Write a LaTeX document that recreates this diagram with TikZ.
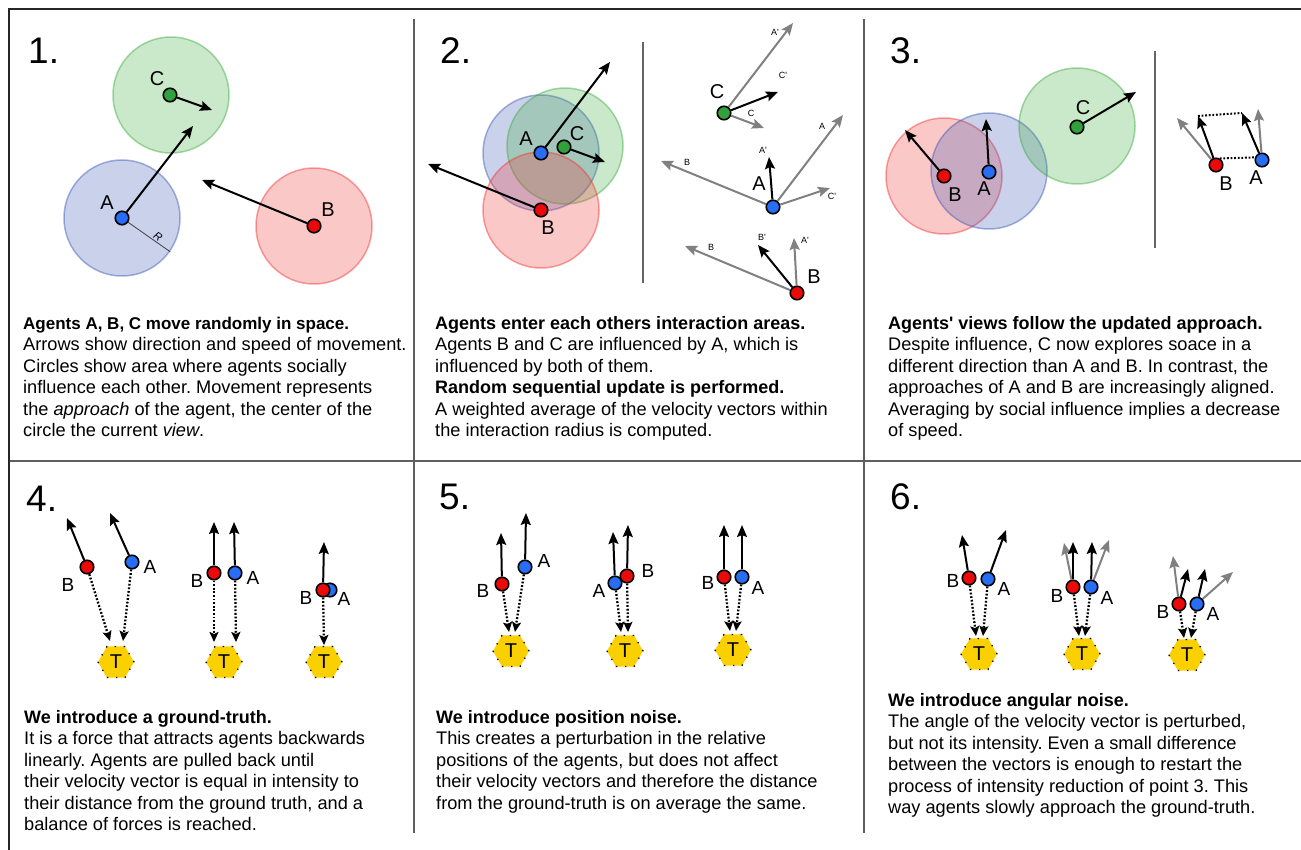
\documentclass[tikz,border=0pt]{standalone}
\usepackage{fontspec}
\setmainfont{Liberation Sans}
\usetikzlibrary{arrows.meta,shapes.geometric}
\frenchspacing

\definecolor{cblue}{RGB}{58,86,180}
\definecolor{cgreen}{RGB}{60,170,60}
\definecolor{cred}{RGB}{240,50,50}
\definecolor{dblue}{RGB}{40,110,245}
\definecolor{dred}{RGB}{235,10,10}
\definecolor{dgreen}{RGB}{50,160,60}
\definecolor{vgray}{RGB}{128,128,128}
\definecolor{tgold}{RGB}{250,208,0}
\definecolor{divider}{RGB}{95,95,95}

\newcommand\bodyfont{\fontsize{18.2}{21.5}\selectfont}
\newcommand\headfont{\fontsize{18}{21.5}\selectfont\bfseries}
\newcommand\firststrut{\rule{0pt}{15pt}}
\newcommand\pr{\textquotesingle}

\begin{document}
\begin{tikzpicture}[x=1pt,y=-1pt,
  zone/.style={circle, minimum size=116pt, inner sep=0pt, line width=1.5pt,
    fill opacity=0.27, draw opacity=0.45},
  bluezone/.style={zone, fill=cblue, draw=cblue},
  greenzone/.style={zone, fill=cgreen, draw=cgreen},
  redzone/.style={zone, fill=cred, draw=cred},
  agent/.style={circle, draw=black, line width=1.6pt, minimum size=13.5pt, inner sep=0pt},
  agentA/.style={agent, fill=dblue},
  agentB/.style={agent, fill=dred},
  agentC/.style={agent, fill=dgreen},
  vec/.style={line width=2pt, -{Stealth[length=12pt,width=10pt,inset=2pt]}},
  gvec/.style={vec, draw=vgray, color=vgray},
  pull/.style={line width=2.3pt, dash pattern=on 1.8pt off 1.8pt,
    -{Stealth[length=10pt,width=9pt,inset=2pt]}},
  pdot/.style={line width=2pt, dash pattern=on 1.8pt off 1.8pt},
  tgt/.style={regular polygon, regular polygon sides=6, fill=tgold, minimum size=36pt,
    inner sep=0pt, draw=black, line width=1.3pt, dash pattern=on 1.3pt off 7.7pt,
    font=\fontsize{20}{20}\selectfont},
  lbl/.style={inner sep=0pt, font=\fontsize{20}{20}\selectfont},
  slbl/.style={inner sep=0pt, font=\fontsize{19}{19}\selectfont},
  tiny/.style={inner sep=0pt, font=\fontsize{9}{9}\selectfont},
  num/.style={anchor=base west, inner sep=0pt, font=\fontsize{37}{37}\selectfont},
  para/.style={anchor=north west, inner sep=0pt, align=left, font=\bodyfont},
  frame/.style={line width=2.5pt, draw=black!85},
  sep/.style={line width=1.6pt, draw=divider},
  thinsep/.style={line width=1.8pt, draw=black!60}
]
\useasboundingbox (0,0) rectangle (1301,850);

% ---------- frame and dividers ----------
\draw[frame] (9,850) -- (9,9) -- (1301,9);
\draw[sep] (10,461) -- (1301,461);
\draw[sep] (414,19) -- (414,833);
\draw[sep] (864,19) -- (864,833);
\draw[thinsep] (643,42) -- (643,283);
\draw[thinsep] (1155,51) -- (1155,248);

% ---------- panel numbers ----------
\node[num] (n1) at (28,64) {1.};
\node[num] (n2) at (440,64) {2.};
\node[num] (n3) at (890,64) {3.};
\node[num] (n4) at (26,511) {4.};
\node[num] (n5) at (439,509) {5.};
\node[num] (n6) at (890,509) {6.};

% ---------- panel 1: random movement ----------
\node[bluezone]  (za1) at (122,218) {};
\node[greenzone] (zc1) at (171,95) {};
\node[redzone]   (zb1) at (314,226) {};
\node[agentA] (a1) at (122,218) {};
\node[agentC] (c1) at (170,95) {};
\node[agentB] (b1) at (314,226) {};
\draw[line width=0.8pt, draw=black!75] (a1) -- (za1.-35);
\node[inner sep=0pt, font=\fontsize{11}{11}\selectfont\itshape, rotate=-35] (r1) at (158,237) {R};
\coordinate (a1v) at (193,126);
\coordinate (c1v) at (212,110);
\coordinate (b1v) at (202,180);
\draw[vec] (a1) -- (a1v);
\draw[vec] (c1) -- (c1v);
\draw[vec] (b1) -- (b1v);
\node[lbl] (la1) at (107,203) {A};
\node[lbl] (lc1) at (157,79) {C};
\node[lbl] (lb1) at (328,210) {B};

% ---------- panel 2: overlapping areas ----------
\node[bluezone]  (za2) at (541,153) {};
\node[greenzone] (zc2) at (565,146) {};
\node[redzone]   (zb2) at (541,210) {};
\coordinate (a2v) at (610,62);
\coordinate (c2v) at (605,162);
\coordinate (b2v) at (428,164);
\node[agentA] (a2) at (541,153) {};
\node[agentC] (c2) at (564,147) {};
\node[agentB] (b2) at (541,210) {};
\draw[vec] (a2) -- (a2v);
\draw[vec] (c2) -- (c2v);
\draw[vec] (b2) -- (b2v);
\node[lbl] (la2) at (526,139) {A};
\node[lbl] (lc2) at (577,134) {C};
\node[lbl] (lb2) at (548,228) {B};

% panel 2: vector averaging for each agent
\node[agentC] (cc) at (724,113) {};
\coordinate (ccA) at (793,23);
\coordinate (ccC) at (764,128);
\coordinate (ccN) at (778,92);
\draw[gvec] (cc) -- (ccA);
\draw[gvec] (cc) -- (ccC);
\draw[vec] (cc) -- (ccN);
\node[lbl] (lcc) at (717,92) {C};
\node[tiny] (tccA) at (775,32) {A\pr};
\node[tiny] (tccN) at (783,75) {C\pr};
\node[tiny] (tccC) at (751,113) {C};

\node[agentA] (aa) at (773,207) {};
\coordinate (aaB) at (661,161);
\coordinate (aaA) at (843,115);
\coordinate (aaC) at (830,188);
\coordinate (aaN) at (769,157);
\draw[gvec] (aa) -- (aaB);
\draw[gvec] (aa) -- (aaA);
\draw[gvec] (aa) -- (aaC);
\draw[vec] (aa) -- (aaN);
\node[lbl] (laa) at (759,184) {A};
\node[tiny] (taaN) at (763,150) {A\pr};
\node[tiny] (taaA) at (822,126) {A};
\node[tiny] (taaB) at (687,162) {B};
\node[tiny] (taaC) at (832,196) {C\pr};

\node[agentB] (bb) at (797,293) {};
\coordinate (bbB) at (685,246);
\coordinate (bbA) at (794,238);
\coordinate (bbN) at (758,245);
\draw[gvec] (bb) -- (bbB);
\draw[gvec] (bb) -- (bbA);
\draw[vec] (bb) -- (bbN);
\node[lbl] (lbb) at (814,277) {B};
\node[tiny] (tbbB) at (711,247) {B};
\node[tiny] (tbbN) at (762,237) {B\pr};
\node[tiny] (tbbA) at (805,240) {A\pr};

% ---------- panel 3: views follow approach ----------
\node[redzone]   (zb3) at (944,176) {};
\node[bluezone]  (za3) at (989,171) {};
\node[greenzone] (zc3) at (1077,126) {};
\coordinate (b3v) at (905,130);
\coordinate (a3v) at (986,119);
\coordinate (c3v) at (1136,92);
\node[agentB] (b3) at (944,176) {};
\node[agentA] (a3) at (989,172) {};
\node[agentC] (c3) at (1077,127) {};
\draw[vec] (b3) -- (b3v);
\draw[vec] (a3) -- (a3v);
\draw[vec] (c3) -- (c3v);
\node[lbl] (lb3) at (955,195) {B};
\node[lbl] (la3) at (984,189) {A};
\node[lbl] (lc3) at (1083,108) {C};

% panel 3: shrinking of aligned vectors
\node[agentB] (bs) at (1216,165) {};
\node[agentA] (as) at (1262,160) {};
\coordinate (bsG) at (1177,118);
\coordinate (asG) at (1258,109);
\coordinate (bsN) at (1198,116);
\coordinate (asN) at (1242,113);
\draw[gvec] (bs) -- (bsG);
\draw[gvec] (as) -- (asG);
\draw[vec] (bs) -- (bsN);
\draw[vec] (as) -- (asN);
\draw[pdot] (bsN) -- (asN);
\draw[pdot] (bs.60) -- (as.160);
\node[lbl] (lbs) at (1226,184) {B};
\node[lbl] (las) at (1256,178) {A};

% ---------- panel 4: ground truth ----------
\node[tgt] (t41) at (116,662) {T};
\node[tgt] (t42) at (224,662) {T};
\node[tgt] (t43) at (324,662) {T};

\node[agentB] (b41) at (87,567) {};
\node[agentA] (a41) at (132,562) {};
\coordinate (b41v) at (67,518);
\coordinate (a41v) at (110,513);
\coordinate (b41p) at (110,641);
\coordinate (a41p) at (123,641);
\draw[vec] (b41) -- (b41v);
\draw[vec] (a41) -- (a41v);
\draw[pull] (b41) -- (b41p);
\draw[pull] (a41) -- (a41p);
\node[slbl] (lb41) at (68,585) {B};
\node[slbl] (la41) at (150,567) {A};

\node[agentB] (b42) at (214,573) {};
\node[agentA] (a42) at (235,573) {};
\coordinate (b42v) at (214,522);
\coordinate (a42v) at (234,522);
\coordinate (b42p) at (214,642);
\coordinate (a42p) at (236,642);
\draw[vec] (b42) -- (b42v);
\draw[vec] (a42) -- (a42v);
\draw[pull] (b42) -- (b42p);
\draw[pull] (a42) -- (a42p);
\node[slbl] (lb42) at (197,581) {B};
\node[slbl] (la42) at (253,578) {A};

\node[agentA] (a43) at (330,590) {};
\node[agentB] (b43) at (323,590) {};
\coordinate (b43v) at (324,542);
\coordinate (b43p) at (324,645);
\draw[vec] (b43) -- (b43v);
\draw[pull] (b43) -- (b43p);
\node[slbl] (lb43) at (306,598) {B};
\node[slbl] (la43) at (344,599) {A};

% ---------- panel 5: position noise ----------
\node[tgt] (t51) at (511,651) {T};
\node[tgt] (t52) at (625,651) {T};
\node[tgt] (t53) at (733,650) {T};

\node[agentB] (b51) at (502,584) {};
\node[agentA] (a51) at (525,567) {};
\coordinate (b51v) at (501,533);
\coordinate (a51v) at (526,513);
\coordinate (b51p) at (509,632);
\coordinate (a51p) at (515,632);
\draw[vec] (b51) -- (b51v);
\draw[vec] (a51) -- (a51v);
\draw[pull] (b51) -- (b51p);
\draw[pull] (a51) -- (a51p);
\node[slbl] (lb51) at (483,591) {B};
\node[slbl] (la51) at (544,561) {A};

\node[agentA] (a52) at (615,583) {};
\node[agentB] (b52) at (627,576) {};
\coordinate (a52v) at (613,532);
\coordinate (b52v) at (628,525);
\coordinate (a52p) at (621,632);
\coordinate (b52p) at (628,632);
\draw[vec] (a52) -- (a52v);
\draw[vec] (b52) -- (b52v);
\draw[pull] (a52) -- (a52p);
\draw[pull] (b52) -- (b52p);
\node[slbl] (la52) at (599,591) {A};
\node[slbl] (lb52) at (648,571) {B};

\node[agentB] (b53) at (724,577) {};
\node[agentA] (a53) at (742,577) {};
\coordinate (b53v) at (724,525);
\coordinate (a53v) at (742,525);
\coordinate (b53p) at (730,631);
\coordinate (a53p) at (736,631);
\draw[vec] (b53) -- (b53v);
\draw[vec] (a53) -- (a53v);
\draw[pull] (b53) -- (b53p);
\draw[pull] (a53) -- (a53p);
\node[slbl] (lb53) at (708,583) {B};
\node[slbl] (la53) at (758,588) {A};

% ---------- panel 6: angular noise ----------
\node[tgt] (t61) at (979,654) {T};
\node[tgt] (t62) at (1082,654) {T};
\node[tgt] (t63) at (1187,655) {T};

\node[agentB] (b61) at (969,578) {};
\node[agentA] (a61) at (988,579) {};
\coordinate (b61v) at (962,535);
\coordinate (a61v) at (1006,530);
\coordinate (b61p) at (976,636);
\coordinate (a61p) at (983,636);
\draw[vec] (b61) -- (b61v);
\draw[vec] (a61) -- (a61v);
\draw[pull] (b61) -- (b61p);
\draw[pull] (a61) -- (a61p);
\node[slbl] (lb61) at (953,581) {B};
\node[slbl] (la61) at (1004,589) {A};

\node[agentB] (b62) at (1073,587) {};
\node[agentA] (a62) at (1091,587) {};
\coordinate (b62g) at (1064,543);
\coordinate (a62g) at (1109,540);
\coordinate (b62v) at (1073,542);
\coordinate (a62v) at (1092,542);
\coordinate (b62p) at (1079,636);
\coordinate (a62p) at (1085,636);
\draw[gvec] (b62) -- (b62g);
\draw[gvec] (a62) -- (a62g);
\draw[vec] (b62) -- (b62v);
\draw[vec] (a62) -- (a62v);
\draw[pull] (b62) -- (b62p);
\draw[pull] (a62) -- (a62p);
\node[slbl] (lb62) at (1057,596) {B};
\node[slbl] (la62) at (1107,598) {A};

\node[agentB] (b63) at (1179,604) {};
\node[agentA] (a63) at (1197,604) {};
\coordinate (b63g) at (1173,556);
\coordinate (a63g) at (1233,572);
\coordinate (b63v) at (1188,569);
\coordinate (a63v) at (1205,569);
\coordinate (b63p) at (1184,638);
\coordinate (a63p) at (1191,638);
\draw[gvec] (b63) -- (b63g);
\draw[gvec] (a63) -- (a63g);
\draw[vec] (b63) -- (b63v);
\draw[vec] (a63) -- (a63v);
\draw[pull] (b63) -- (b63p);
\draw[pull] (a63) -- (a63p);
\node[slbl] (lb63) at (1163,612) {B};
\node[slbl] (la63) at (1213,614) {A};

% ---------- captions ----------
\node[para] (p1) at (23,314) {\firststrut{\fontsize{17}{21.5}\selectfont\bfseries Agents A, B, C move randomly in space.}\\
Arrows show direction and speed of movement.\\
Circles show area where agents socially\\
influence each other. Movement represents\\
the \textit{approach} of the agent, the center of the\\
circle the current \textit{view}.};

\node[para] (p2) at (435,314) {\firststrut{\headfont Agents enter each others interaction areas.}\\
Agents B and C are influenced by A, which is\\
influenced by both of them.\\
{\headfont Random sequential update is performed.}\\
A weighted average of the velocity vectors within\\
the interaction radius is computed.};

\node[para] (p3) at (888,314) {\firststrut{\headfont Agents\pr{} views follow the updated approach.}\\
Despite influence, C now explores soace in a\\
different direction than A and B. In contrast, the\\
approaches of A and B are increasingly aligned.\\
Averaging by social influence implies a decrease\\
of speed.};

\node[para] (p4) at (24,708) {\firststrut{\headfont We introduce a ground-truth.}\\
It is a force that attracts agents backwards\\
linearly. Agents are pulled back until\\
their velocity vector is equal in intensity to\\
their distance from the ground truth, and a\\
balance of forces is reached.};

\node[para] (p5) at (436,708) {\firststrut{\headfont We introduce position noise.}\\
This creates a perturbation in the relative\\
positions of the agents, but does not affect\\
their velocity vectors and therefore the distance\\
from the ground-truth is on average the same.};

\node[para] (p6) at (888,691) {\firststrut{\headfont We introduce angular noise.}\\
The angle of the velocity vector is perturbed,\\
but not its intensity. Even a small difference\\
between the vectors is enough to restart the\\
process of intensity reduction of point 3. This\\
way agents slowly approach the ground-truth.};
\end{tikzpicture}
\end{document}
